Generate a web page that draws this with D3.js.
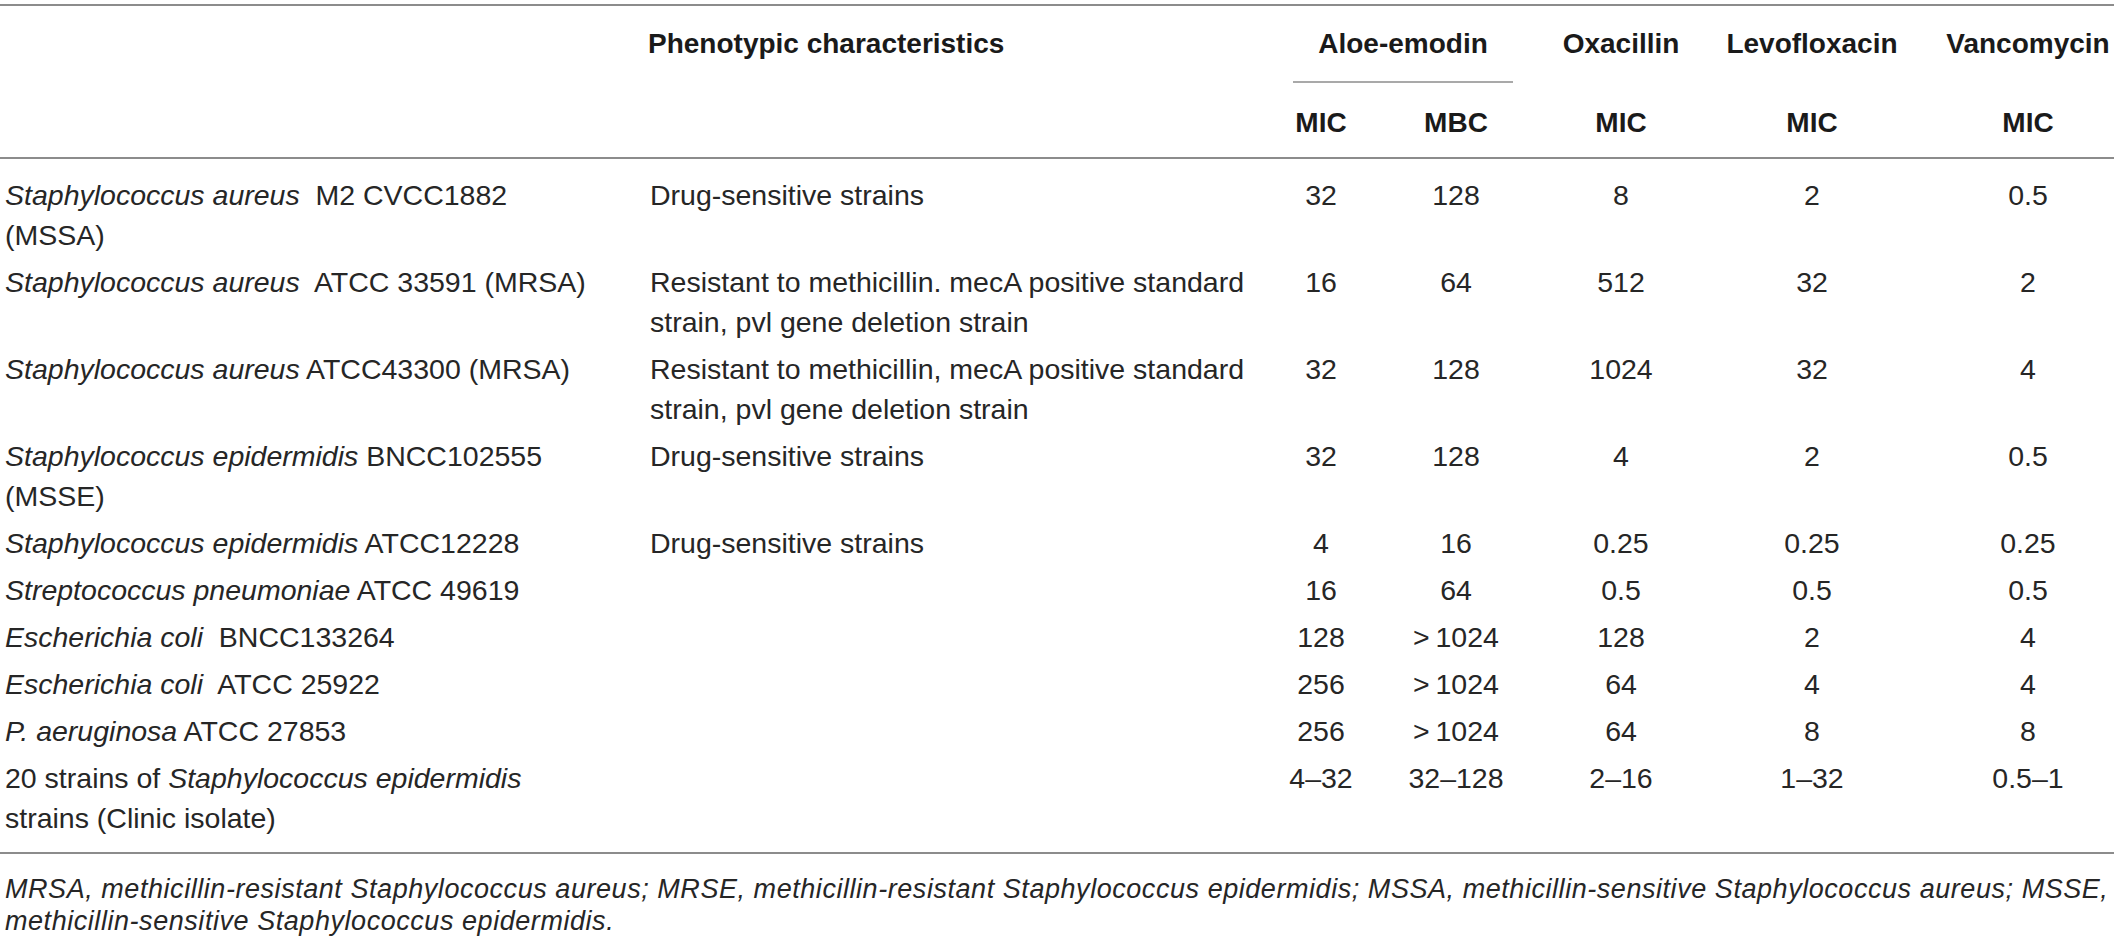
<!DOCTYPE html>
<html>
<head>
<meta charset="utf-8">
<script src="https://cdn.jsdelivr.net/npm/d3@7"></script>
<style>
  body { margin: 0; background: #fff; }
  svg { display: block; font-family: "Liberation Sans", Arial, Helvetica, sans-serif; }
</style>
</head>
<body>
<div id="table"></div>
<script>
// table content ( *...* = italic species name, \n = line break )
const strains = [
    "*Staphylococcus aureus*  M2 CVCC1882\n(MSSA)",
    "*Staphylococcus aureus*  ATCC 33591 (MRSA)",
    "*Staphylococcus aureus* ATCC43300 (MRSA)",
    "*Staphylococcus epidermidis* BNCC102555\n(MSSE)",
    "*Staphylococcus epidermidis* ATCC12228",
    "*Streptococcus pneumoniae* ATCC 49619",
    "*Escherichia coli*  BNCC133264",
    "*Escherichia coli*  ATCC 25922",
    "*P. aeruginosa* ATCC 27853",
    "20 strains of *Staphylococcus epidermidis*\nstrains (Clinic isolate)"
];
const phenotypes = [
    "Drug-sensitive strains",
    "Resistant to methicillin. mecA positive standard\nstrain, pvl gene deletion strain",
    "Resistant to methicillin, mecA positive standard\nstrain, pvl gene deletion strain",
    "Drug-sensitive strains",
    "Drug-sensitive strains",
    "", "", "", "", ""
];
const aloeMIC  = ["32", "16", "32", "32", "4", "16", "128", "256", "256", "4–32"];
const aloeMBC  = ["128", "64", "128", "128", "16", "64", ">\u20091024", ">\u20091024", ">\u20091024", "32–128"];
const oxaMIC   = ["8", "512", "1024", "4", "0.25", "0.5", "128", "64", "64", "2–16"];
const levoMIC  = ["2", "32", "32", "2", "0.25", "0.5", "2", "4", "8", "1–32"];
const vancoMIC = ["0.5", "2", "4", "0.5", "0.25", "0.5", "4", "4", "8", "0.5–1"];

const drugs = ["Aloe-emodin", "Oxacillin", "Levofloxacin", "Vancomycin"];
const subHeads = ["MIC", "MBC", "MIC", "MIC", "MIC"];
const footnote = [
    "MRSA, methicillin-resistant Staphylococcus aureus; MRSE, methicillin-resistant Staphylococcus epidermidis; MSSA, methicillin-sensitive Staphylococcus aureus; MSSE,",
    "methicillin-sensitive Staphylococcus epidermidis."
];

const width = 2118, height = 938;
const textColor = "#262626";
const ruleColor = "#8c8c8c";
const bodySize = 28.5;
const lineH = 40;

const valueCols = [aloeMIC, aloeMBC, oxaMIC, levoMIC, vancoMIC];
const colKeys = ["aloeMIC", "aloeMBC", "oxaMIC", "levoMIC", "vancoMIC"];

// x centres of the value columns and the drug group headers
const colX = d3.scaleOrdinal().domain(colKeys).range([1321, 1456, 1621, 1812, 2028]);
const drugX = d3.scaleOrdinal().domain(drugs).range([1403, 1621, 1812, 2028]);

// row heights from how many lines each row needs
const nLines = strains.map((s, i) => Math.max(s.split("\n").length, phenotypes[i].split("\n").length));
const rowH = nLines.map(n => 47 + lineH * (n - 1));
const firstY = 195;
const rowY = nLines.map((n, i) => firstY + d3.sum(rowH.slice(0, i)));

const svg = d3.select("#table").append("svg")
    .attr("width", width)
    .attr("height", height)
    .attr("viewBox", `0 0 ${width} ${height}`);

// rules
function rule(x1, x2, y, w) {
    svg.append("line")
        .attr("x1", x1).attr("x2", x2)
        .attr("y1", y).attr("y2", y)
        .attr("stroke", ruleColor)
        .attr("stroke-width", w || 2);
}
rule(0, 2114, 5);
rule(1293, 1513, 82, 1.6);
rule(0, 2114, 158);
rule(0, 2114, 853);

// rich text: handles *italic* parts and \n line breaks
function richText(g, str, x, y, anchor) {
    const t = g.append("text")
        .attr("x", x)
        .attr("y", y)
        .attr("text-anchor", anchor || "start")
        .attr("fill", textColor)
        .style("font-size", bodySize + "px");
    str.split("\n").forEach((line, li) => {
        let italic = false;
        line.split("*").forEach((part, pi) => {
            if (pi > 0) italic = !italic;
            if (part === "") return;
            const ts = t.append("tspan")
                .attr("font-style", italic ? "italic" : "normal")
                .style("white-space", "pre")
                .text(part);
            if (pi === 0 || (pi === 1 && line.startsWith("*"))) {
                ts.attr("x", x).attr("y", y + li * lineH).attr("dy", "0.35em");
            }
        });
    });
    return t;
}

// header
const head = svg.append("g").attr("font-weight", "bold").attr("fill", "#1a1a1a").style("font-size", "28px");
head.append("text")
    .attr("x", 648).attr("y", 43).attr("dy", "0.35em")
    .text("Phenotypic characteristics");
head.selectAll("text.drug")
    .data(drugs)
    .enter().append("text")
    .attr("class", "drug")
    .attr("x", d => drugX(d))
    .attr("y", 43).attr("dy", "0.35em")
    .attr("text-anchor", "middle")
    .text(d => d);
head.selectAll("text.sub")
    .data(colKeys)
    .enter().append("text")
    .attr("class", "sub")
    .attr("x", d => colX(d))
    .attr("y", 122).attr("dy", "0.35em")
    .attr("text-anchor", "middle")
    .text((d, i) => subHeads[i]);

// body
const body = svg.append("g").style("white-space", "pre");
strains.forEach((s, i) => richText(body, s, 5, rowY[i]));
phenotypes.forEach((p, i) => { if (p) richText(body, p, 650, rowY[i]); });

colKeys.forEach((k, c) => {
    body.selectAll("text.v" + c)
        .data(valueCols[c])
        .enter().append("text")
        .attr("class", "v" + c)
        .attr("x", colX(k))
        .attr("y", (d, i) => rowY[i])
        .attr("dy", "0.35em")
        .attr("text-anchor", "middle")
        .attr("fill", textColor)
        .style("font-size", bodySize + "px")
        .text(d => d);
});

// footnote
svg.append("g")
    .selectAll("text")
    .data(footnote)
    .enter().append("text")
    .attr("x", 5)
    .attr("y", (d, i) => 889 + i * 32)
    .attr("dy", "0.35em")
    .attr("font-style", "italic")
    .attr("fill", textColor)
    .style("font-size", "27px")
    .style("letter-spacing", "0.55px")
    .text(d => d);
</script>
</body>
</html>
